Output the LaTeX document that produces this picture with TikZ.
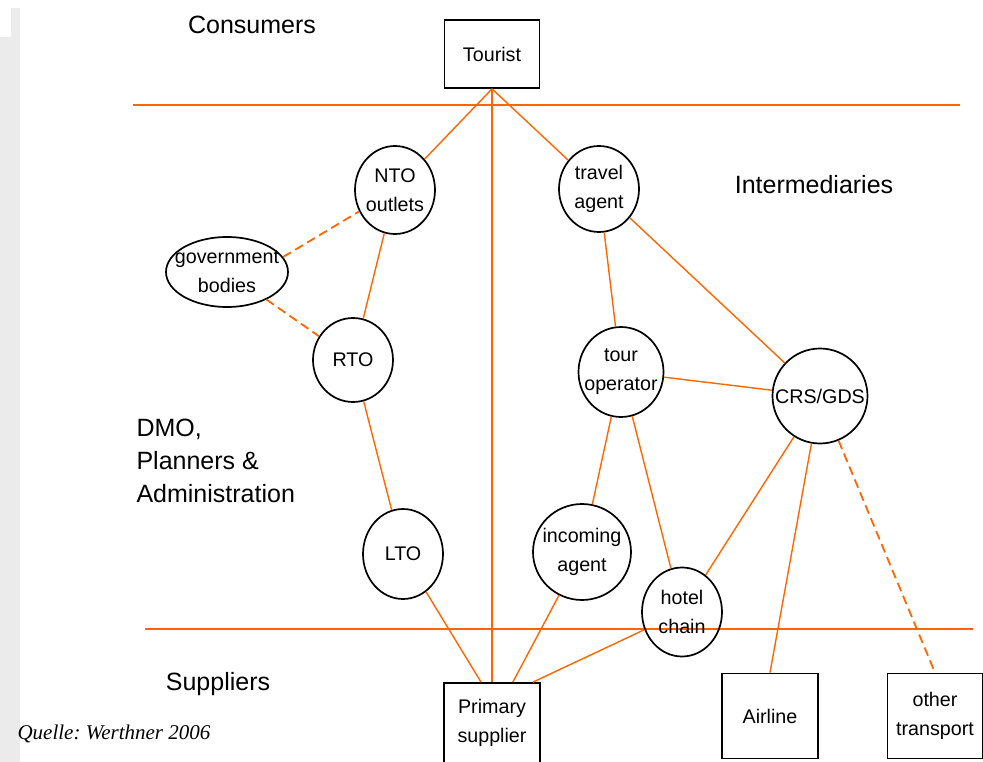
\documentclass[tikz,border=0pt]{standalone}
\usepackage{fontspec}
\setmainfont{Liberation Sans}
\newfontfamily\quellefont{Liberation Serif}
\usepackage{tikz}
\usetikzlibrary{shapes.geometric}
\definecolor{linkorange}{RGB}{255,102,0}
\frenchspacing

\begin{document}
\begin{tikzpicture}
[x=1pt, y=-1pt,
big/.style={font=\fontsize{25}{33}\selectfont},
small/.style={font=\fontsize{19.7}{29}\selectfont, align=center},
box/.style={draw, line width=1.7, inner sep=0, small},
bubble/.style={draw, ellipse, line width=1.7, inner sep=0},
link/.style={linkorange, line width=1.4},
dlink/.style={linkorange, line width=1.8, dash pattern=on 9pt off 5pt}]
\useasboundingbox (0,0) rectangle (983,762);
\fill[black!8] (0,37) rectangle (20,762);
\fill[black!8] (11,8) rectangle (20,37);

\node[big] (consumers) at (252,25) {Consumers};
\node[big] (intermed) at (814,185) {Intermediaries};
\node[big, anchor=north west, align=left] (dmo) at (133,416) {DMO,\\Planners \&\\Administration};
\node[big] (suppliers) at (218,684) {Suppliers};
\node[anchor=base west, font=\quellefont\itshape\fontsize{21}{25}\selectfont] (quelle) at (14,739) {Quelle: Werthner 2006};

\draw[link] (133,105) -- (960,105);
\draw[link] (145,629) -- (973,629);

\node[box, minimum width=95, minimum height=68] (tourist) at (492,54) {Tourist};
\node[box, minimum width=96, minimum height=80] (primary) at (492,723) {Primary\\supplier};
\node[box, minimum width=96, minimum height=85] (airline) at (770,716) {Airline};
\node[box, minimum width=95, minimum height=85] (other) at (935,716) {other\\transport};

\node[bubble, minimum width=80, minimum height=88, label={[small]center:NTO\\outlets}] (nto) at (395,190) {};
\node[bubble, minimum width=122, minimum height=70, label={[small]center:government\\bodies}] (gov) at (227,272) {};
\node[bubble, minimum width=80, minimum height=84, label={[small]center:RTO}] (rto) at (353,360) {};
\node[bubble, minimum width=80, minimum height=90, label={[small]center:LTO}] (lto) at (403,554) {};
\node[bubble, minimum width=80, minimum height=86, label={[small]center:travel\\agent}] (travel) at (599,189) {};
\node[bubble, minimum width=85, minimum height=90, label={[small]center:tour\\operator}] (tour) at (621,372) {};
\node[bubble, minimum width=95, minimum height=95, label={[small]center:CRS/GDS}] (crs) at (820,396) {};
\node[bubble, minimum width=98, minimum height=96, label={[small]center:incoming\\agent}] (incoming) at (582,552) {};
\node[bubble, minimum width=80, minimum height=89, label={[small]center:hotel\\chain}] (hotel) at (682,612) {};

\draw[link] (tourist.south) -- (nto);
\draw[link] (tourist.south) -- (primary.north);
\draw[link] (tourist.south) -- (travel);
\draw[link] (nto) -- (rto);
\draw[link] (rto) -- (lto);
\draw[link] (lto) -- (primary.105);
\draw[link] (travel) -- (tour);
\draw[link] (travel) -- (crs);
\draw[link] (tour) -- (crs);
\draw[link] (tour) -- (incoming);
\draw[link] (tour) -- (hotel);
\draw[link] (crs) -- (hotel);
\draw[link] (crs) -- (airline.north);
\draw[link] (incoming) -- (primary.63);
\draw[link] (hotel) -- (primary.45);
\draw[dlink] (gov.15) -- (nto);
\draw[dlink] (gov) -- (rto);
\draw[dlink] (crs) -- (other.north);
\end{tikzpicture}
\end{document}
